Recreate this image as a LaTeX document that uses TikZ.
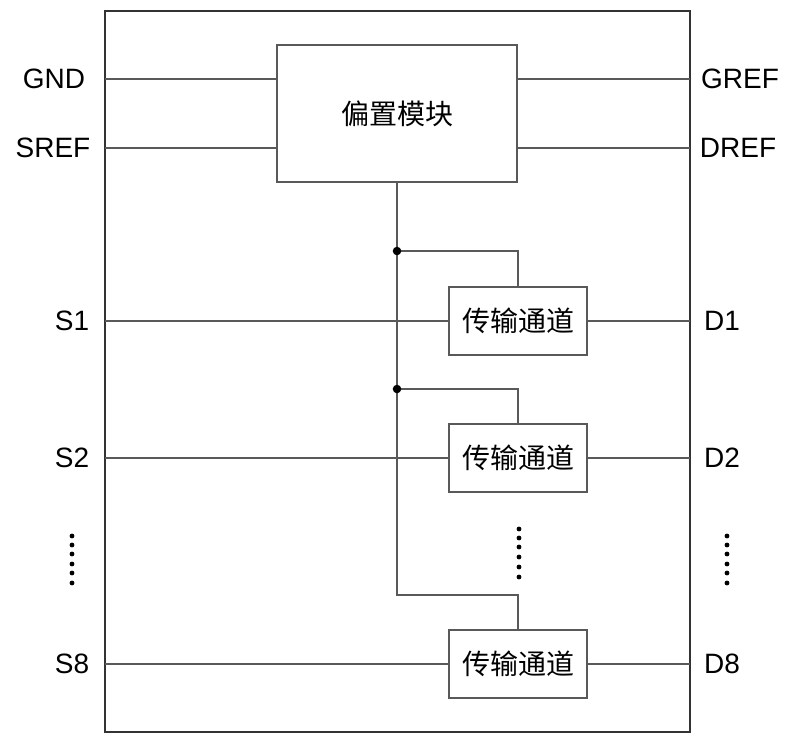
\documentclass[tikz,border=0pt]{standalone}
\usepackage{fontspec}
\setmainfont{Liberation Sans}
\newfontfamily\cjk{Noto Sans CJK SC}
\usetikzlibrary{positioning}

\tikzset{
	wire/.style={draw=black!65, line width=1pt},
	blockbox/.style={draw=black!65, line width=1pt, fill=white, inner sep=0pt},
	pin/.style={font=\fontsize{21}{25}\selectfont},
	dotdot/.style={fill=black, circle, inner sep=0pt, minimum size=3.6pt}
}

\begin{document}
\begin{tikzpicture}[x=0.75pt, y=-0.75pt]
		\useasboundingbox (0,0) rectangle (798,744);
		\node[draw=black!80, line width=0.9pt, minimum width=438.75pt, minimum height=540.75pt, inner sep=0pt] (chip) at (397.5,371.5) {};

		\node[blockbox, minimum width=180pt, minimum height=102.75pt, font=\cjk\fontsize{21}{24}\selectfont] (bias) at (397,113.5) {偏置模块};
		\node[blockbox, minimum width=103.5pt, minimum height=51pt, font=\cjk\fontsize{21}{24}\selectfont] (ch1) at (518,321) {传输通道};
		\node[blockbox, minimum width=103.5pt, minimum height=51pt, font=\cjk\fontsize{21}{24}\selectfont] (ch2) at (518,458) {传输通道};
		\node[blockbox, minimum width=103.5pt, minimum height=51pt, font=\cjk\fontsize{21}{24}\selectfont] (ch8) at (518,664) {传输通道};

		\node[pin] (gnd) at (54,79) {GND};
		\node[pin] (sref) at (53,148) {SREF};
		\node[pin] (gref) at (740,79) {GREF};
		\node[pin] (dref) at (738,148) {DREF};
		\node[pin] (s1) at (72,321) {S1};
		\node[pin] (s2) at (72,458) {S2};
		\node[pin] (s8) at (72,664) {S8};
		\node[pin] (d1) at (722,321) {D1};
		\node[pin] (d2) at (722,458) {D2};
		\node[pin] (d8) at (722,664) {D8};

		\coordinate (gndin) at (105,79);
		\coordinate (srefin) at (105,148);
		\coordinate (grefout) at (690,79);
		\coordinate (drefout) at (690,148);
		\draw[wire] (gndin) -- (gndin -| bias.west);
		\draw[wire] (srefin) -- (srefin -| bias.west);
		\draw[wire] (grefout -| bias.east) -- (grefout);
		\draw[wire] (drefout -| bias.east) -- (drefout);

		\foreach \ch in {ch1,ch2,ch8} {
			\draw[wire] (105,0 |- \ch.west) -- (\ch.west);
			\draw[wire] (\ch.east) -- (690,0 |- \ch.east);
		}

		\coordinate (j1) at (397,251);
		\coordinate (j2) at (397,389);
		\coordinate (bend) at (397,595);
		\draw[wire] (bias.south) -- (j1) -- (j2) -- (bend) -| (ch8.north);
		\draw[wire] (j1) -| (ch1.north);
		\draw[wire] (j2) -| (ch2.north);
		\fill (j1) circle (3.2pt);
		\fill (j2) circle (3.2pt);

		\foreach \y in {536,545,554,564,573,583} {
			\node[dotdot] at (72,\y) {};
			\node[dotdot] at (727,\y) {};
		}
		\foreach \y in {529,538,547,557,567,577}
			\node[dotdot] at (519,\y) {};
	\end{tikzpicture}
\end{document}
